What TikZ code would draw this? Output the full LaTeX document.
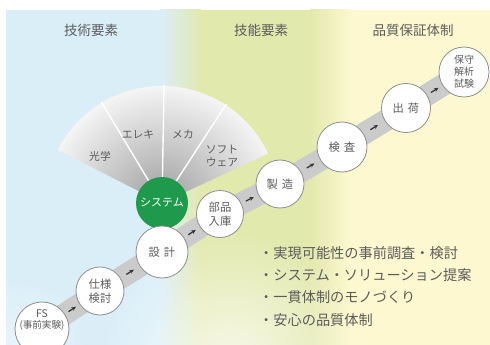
\documentclass[tikz,border=0pt]{standalone}
\usepackage{fontspec}
\newfontfamily\jp{Noto Sans CJK JP}
\usetikzlibrary{calc,fadings,arrows.meta,decorations.markings}
\definecolor{bblue}{HTML}{DAEEF8}
\definecolor{bgreen}{HTML}{E2E9AD}
\definecolor{byellow}{HTML}{FDF8CF}
\definecolor{tgray}{HTML}{5C5C5C}
\definecolor{sysgreen}{HTML}{1F9A4C}
\definecolor{bandgray}{HTML}{CBCBCB}
\definecolor{ringgray}{HTML}{8E8E8E}
\tikzfading[name=softglow, inner color=transparent!0, outer color=transparent!100]
\pgfdeclareradialshading{fanshade}{\pgfpoint{0bp}{0bp}}{color(0bp)=(black!34); color(6bp)=(black!30); color(25bp)=(black!4); color(50bp)=(black!4)}
\begin{document}
\begin{tikzpicture}[x=1pt,y=-1pt,
  stage/.style={circle, draw=ringgray, line width=0.8pt, fill=white, inner sep=0pt,
    minimum size=#1, font=\jp\fontsize{11.3}{13.5}\selectfont, text=tgray, align=center},
  header/.style={font=\jp\fontsize{13.5}{15}\selectfont, text=tgray},
  fanlabel/.style={font=\jp\fontsize{10.8}{12.5}\selectfont, text=tgray, align=center},
  band/.style={line width=22pt, draw=bandgray, line join=round},
  flowmark/.style={postaction={decorate}, decoration={markings,
    mark=at position 0.5 with {\draw[-{Stealth[length=4.5pt,width=4pt]}, line width=1.3pt, draw=black!78] (-4.5pt,0) -- (4.5pt,0);}}},
  divider/.style={draw=white, line width=1.4pt},
  bullets/.style={font=\jp\fontsize{14.2}{22.3}\selectfont, text=tgray, align=left, inner sep=0pt, anchor=north west}
]
\useasboundingbox (0,0) rectangle (490,345);
% background
\fill[bblue] (6,10) rectangle (161,345);
\shade[left color=bblue, right color=bgreen] (160,10) rectangle (201,345);
\fill[bgreen] (200,10) rectangle (311,345);
\shade[left color=bgreen, right color=byellow] (310,10) rectangle (351,345);
\fill[byellow] (350,10) rectangle (490,345);
\fill[white, fill opacity=0.75, path fading=softglow] (230,365) circle (135);
\fill[white, fill opacity=0.4, path fading=softglow] (20,345) circle (70);

% headers
\node[header] (h1) at (91,30) {技術要素};
\node[header] (h2) at (261,30) {技能要素};
\node[header] (h3) at (413,30) {品質保証体制};

% fan of technical elements
\coordinate (syspos) at (162,203);
\begin{scope}
  \clip (syspos) -- ++(-153:117) arc[start angle=-153, end angle=-25, radius=117] -- cycle;
  \shade[shading=fanshade] (syspos) circle (117);
\end{scope}
\draw[divider] (syspos) -- ++(-121:118);
\draw[divider] (syspos) -- ++(-89:118);
\draw[divider] (syspos) -- ++(-57:118);
\node[fanlabel] (f1) at (100,156) {光学};
\node[fanlabel] (f2) at (138,134) {エレキ};
\node[fanlabel] (f3) at (183,134) {メカ};
\node[fanlabel] (f4) at (222,156) {ソフト\\ウェア};

% band coordinates
\coordinate (p1) at (42,329);
\coordinate (p2) at (100,291);
\coordinate (p3) at (162,252);
\coordinate (p4) at (220,214);
\coordinate (p5) at (280,184);
\coordinate (p6) at (342,147);
\coordinate (p7) at (406,108);
\coordinate (p8) at (464,72);
\draw[band] (p1) -- (p2) -- (p3) -- (p4) -- (p5) -- (p6) -- (p7) -- (p8);

% system circle
\node[circle, fill=sysgreen, inner sep=0pt, minimum size=52, text=white,
  font=\jp\fontsize{11}{13}\selectfont] (system) at (syspos) {システム};

% stage circles
\node[stage=54] (fs) at (p1) {};
\node[font=\jp\fontsize{10.5}{12}\selectfont, text=tgray, align=center, inner sep=0pt] (fstext) at (42,320)
  {FS\\[-1pt]{\fontsize{9.6}{11}\selectfont (事前実験)}};
\node[stage=48] (shiyo) at (p2) {仕様\\検討};
\node[stage=52] (sekkei) at (p3) {設\hspace{0.35em}計};
\node[stage=47] (buhin) at (p4) {部品\\入庫};
\node[stage=48] (seizo) at (p5) {製\hspace{0.35em}造};
\node[stage=50] (kensa) at (p6) {検\hspace{0.35em}査};
\node[stage=49] (shukka) at (p7) {出\hspace{0.35em}荷};
\node[stage=50, font=\jp\fontsize{10}{12}\selectfont] (hoshu) at (p8) {保守\\解析\\試験};

% flow arrows
\path[flowmark] (fs) -- (shiyo);
\path[flowmark] (shiyo) -- (sekkei);
\path[flowmark] (sekkei) -- (buhin);
\path[flowmark] (buhin) -- (seizo);
\path[flowmark] (seizo) -- (kensa);
\path[flowmark] (kensa) -- (shukka);
\path[flowmark] (shukka) -- (hoshu);

% bullet list
\node[bullets] (list) at (259,246) {・実現可能性の事前調査・検討\\・システム・ソリューション提案\\・一貫体制のモノづくり\\・安心の品質体制};
\end{tikzpicture}
\end{document}
